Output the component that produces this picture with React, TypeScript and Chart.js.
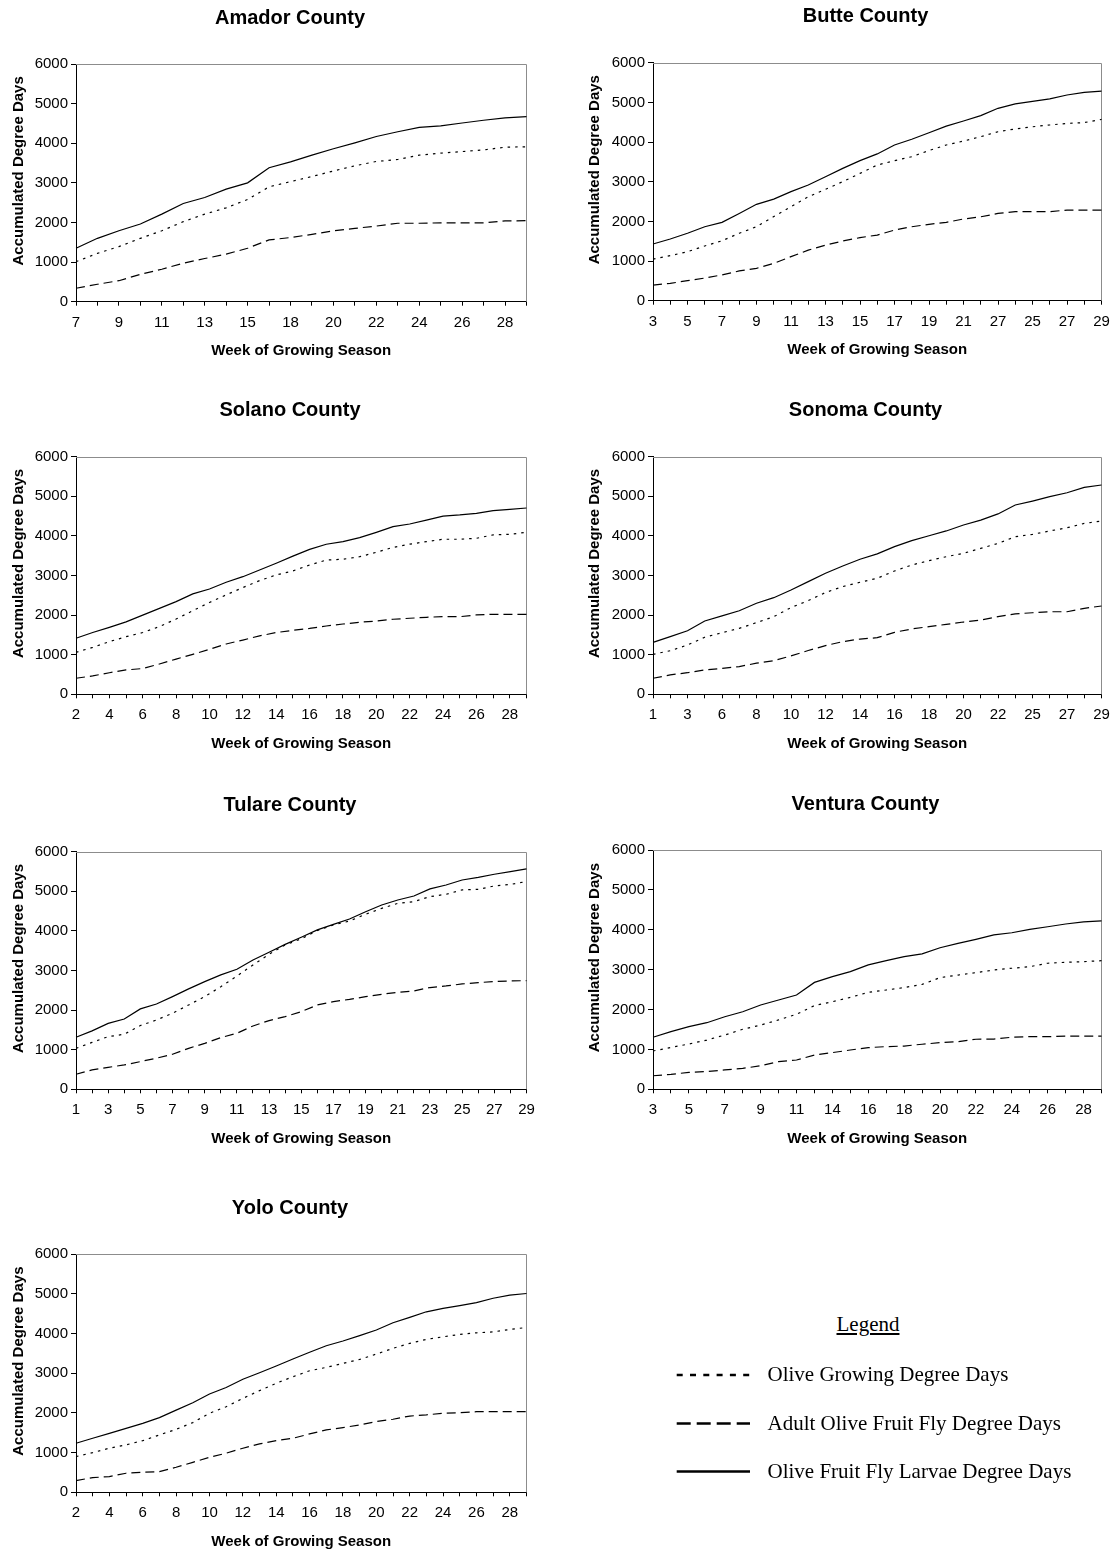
import React, { useEffect, useRef } from 'react';
import { Chart, registerables, LinearScale } from 'chart.js';

Chart.register(...registerables);

const Y_TITLE_SHIFT = -12;

class ShiftedTitleLinearScale extends LinearScale {
  static id = 'shiftedTitleLinear';
  static defaults = LinearScale.defaults;
  drawTitle() {
    const ctx = this.ctx;
    ctx.save();
    ctx.translate(0, Y_TITLE_SHIFT);
    super.drawTitle();
    ctx.restore();
  }
}
Chart.register(ShiftedTitleLinearScale);

// ---------------- DATA ----------------
const SERIES_NAMES = [
  'Olive Growing Degree Days',
  'Adult Olive Fruit Fly Degree Days',
  'Olive Fruit Fly Larvae Degree Days',
];
const Y_TICKS = [0, 1000, 2000, 3000, 4000, 5000, 6000];

const amadorWeeks = ['7','8','9','10','11','12','13','14','15','16','18','19','20','21','22','23','24','25','26','27','28','29'];
const amadorGrowing = [1010,1220,1390,1600,1790,2020,2210,2370,2580,2900,3030,3160,3300,3430,3540,3590,3700,3750,3790,3830,3900,3910];
const amadorAdult = [340,440,530,690,820,970,1090,1200,1350,1560,1620,1700,1790,1850,1910,1980,1980,1990,1990,1990,2040,2045];
const amadorLarvae = [1350,1600,1790,1960,2210,2480,2630,2840,3000,3380,3530,3700,3860,4010,4170,4290,4400,4440,4510,4580,4640,4670];

const butteWeeks = ['3','4','5','6','7','8','9','10','11','12','13','14','15','16','17','18','19','20','21','22','27','24','25','26','27','28','29'];
const butteGrowing = [1050,1135,1235,1380,1510,1700,1865,2120,2370,2620,2810,3000,3210,3420,3530,3630,3785,3925,4025,4135,4260,4330,4385,4430,4470,4490,4570];
const butteAdult = [395,437,505,570,650,750,815,940,1110,1275,1400,1505,1590,1655,1780,1865,1925,1975,2060,2115,2200,2245,2245,2245,2285,2285,2285];
const butteLarvae = [1430,1555,1700,1865,1975,2200,2430,2560,2750,2915,3125,3335,3530,3700,3925,4070,4235,4400,4530,4665,4850,4960,5025,5090,5185,5250,5285];

const solanoWeeks = ['2','3','4','5','6','7','8','9','10','11','12','13','14','15','16','17','18','19','20','21','22','23','24','25','26','27','28','29'];
const solanoGrowing = [1060,1185,1330,1455,1560,1710,1900,2110,2320,2510,2695,2870,3015,3115,3265,3390,3410,3475,3585,3710,3790,3855,3915,3915,3940,4025,4040,4090];
const solanoAdult = [405,465,545,615,650,765,890,1010,1135,1270,1370,1475,1560,1615,1665,1725,1775,1820,1850,1895,1920,1945,1960,1960,2005,2020,2020,2020];
const solanoLarvae = [1415,1560,1690,1830,2000,2170,2340,2535,2660,2830,2970,3140,3310,3490,3660,3790,3855,3955,4090,4235,4300,4400,4500,4530,4570,4640,4670,4705];

const sonomaWeeks = ['1','2','3','4','6','7','8','9','10','11','12','13','14','15','16','17','18','19','20','21','22','24','25','26','27','28','29'];
const sonomaGrowing = [1010,1100,1245,1440,1555,1665,1810,1960,2190,2365,2570,2720,2830,2930,3115,3265,3375,3475,3560,3685,3810,3980,4040,4125,4205,4315,4375];
const sonomaAdult = [405,490,545,615,655,700,785,850,970,1105,1230,1330,1395,1430,1565,1650,1710,1765,1825,1875,1960,2030,2060,2085,2085,2170,2230];
const sonomaLarvae = [1310,1455,1605,1850,1980,2110,2300,2440,2635,2845,3055,3240,3410,3545,3730,3880,4005,4125,4275,4400,4555,4780,4880,4990,5090,5225,5285];

const tulareWeeks = ['1','2','3','4','5','6','7','8','9','10','11','12','13','14','15','16','17','18','19','20','21','22','23','24','25','26','27','28','29'];
const tulareGrowing = [1035,1185,1330,1390,1610,1750,1920,2130,2340,2590,2860,3140,3410,3645,3800,4010,4150,4250,4420,4570,4695,4740,4865,4925,5035,5050,5135,5175,5245];
const tulareAdult = [380,490,555,615,700,785,885,1035,1160,1305,1415,1600,1735,1835,1960,2130,2215,2270,2340,2400,2450,2485,2570,2610,2660,2695,2720,2735,2745];
const tulareLarvae = [1315,1475,1665,1775,2030,2155,2340,2535,2720,2890,3030,3265,3460,3660,3840,4025,4165,4300,4485,4655,4780,4880,5060,5160,5285,5350,5430,5495,5565];

const venturaWeeks = ['3','4','5','6','7','8','9','10','11','13','14','15','16','17','18','19','20','21','22','23','24','25','26','27','28','29'];
const venturaGrowing = [960,1050,1135,1235,1360,1505,1610,1740,1880,2100,2195,2305,2430,2490,2550,2630,2800,2865,2925,2990,3035,3075,3160,3185,3200,3225];
const venturaAdult = [340,375,425,445,485,525,590,695,735,860,920,985,1045,1070,1085,1130,1170,1195,1255,1260,1305,1320,1320,1335,1335,1335];
const venturaLarvae = [1305,1445,1570,1670,1820,1945,2115,2240,2365,2680,2825,2950,3120,3225,3325,3395,3550,3660,3760,3870,3925,4010,4075,4145,4200,4225];

const yoloWeeks = ['2','3','4','5','6','7','8','9','10','11','12','13','14','15','16','17','18','19','20','21','22','23','24','25','26','27','28','29'];
const yoloGrowing = [900,1000,1110,1195,1300,1445,1585,1755,1990,2155,2365,2560,2745,2910,3060,3145,3245,3345,3480,3625,3750,3850,3915,3975,4015,4040,4100,4150];
const yoloAdult = [295,370,395,480,505,520,630,755,880,985,1110,1220,1300,1360,1470,1570,1630,1695,1780,1840,1920,1950,1990,2005,2030,2030,2030,2030];
const yoloLarvae = [1235,1360,1485,1610,1735,1880,2070,2255,2475,2640,2845,3010,3180,3355,3525,3690,3810,3945,4085,4270,4405,4545,4630,4700,4775,4885,4965,5005];

// ---------------- LAYOUT ----------------
const FONT = '"Liberation Sans", Arial, Helvetica, sans-serif';
const SERIF = '"Liberation Serif", "Times New Roman", serif';

const COL_LEFT = { yTitleX: 18.5, plotL: 76, plotR: 526.5, titleX: 290 };
const COL_RIGHT = { yTitleX: 595, plotL: 653, plotR: 1101.5, titleX: 865.5 };

type Col = typeof COL_LEFT;
interface Spec {
  title: string;
  weeks: string[];
  growing: number[];
  adult: number[];
  larvae: number[];
  col: Col;
  plotT: number;
  plotB: number;
}

const SPECS: Spec[] = [
  { title: 'Amador County', weeks: amadorWeeks, growing: amadorGrowing, adult: amadorAdult, larvae: amadorLarvae, col: COL_LEFT, plotT: 64, plotB: 301.7 },
  { title: 'Butte County', weeks: butteWeeks, growing: butteGrowing, adult: butteAdult, larvae: butteLarvae, col: COL_RIGHT, plotT: 62.7, plotB: 300.7 },
  { title: 'Solano County', weeks: solanoWeeks, growing: solanoGrowing, adult: solanoAdult, larvae: solanoLarvae, col: COL_LEFT, plotT: 456.7, plotB: 694.3 },
  { title: 'Sonoma County', weeks: sonomaWeeks, growing: sonomaGrowing, adult: sonomaAdult, larvae: sonomaLarvae, col: COL_RIGHT, plotT: 456.7, plotB: 694.3 },
  { title: 'Tulare County', weeks: tulareWeeks, growing: tulareGrowing, adult: tulareAdult, larvae: tulareLarvae, col: COL_LEFT, plotT: 851.7, plotB: 1089.3 },
  { title: 'Ventura County', weeks: venturaWeeks, growing: venturaGrowing, adult: venturaAdult, larvae: venturaLarvae, col: COL_RIGHT, plotT: 850, plotB: 1089.3 },
  { title: 'Yolo County', weeks: yoloWeeks, growing: yoloGrowing, adult: yoloAdult, larvae: yoloLarvae, col: COL_LEFT, plotT: 1254, plotB: 1492.3 },
];

function geometry(s: Spec) {
  const col = s.col;
  const cl = Math.floor(col.yTitleX - 18.5);
  const ct = Math.floor(s.plotT - 64);
  const W = Math.round(2 * (col.titleX - cl));
  const yW = col.plotL - cl;
  const D = cl + W - col.plotR;
  const yTitlePad = col.yTitleX - cl - 9;
  const titlePadTop = (s.plotT - 46) - ct - 12;
  const titlePadBottom = s.plotT - ct - titlePadTop - 24;
  const H = Math.ceil(s.plotB - ct + 58.5);
  const xH = H - (s.plotB - ct);
  const xTitlePadBottom = Math.max(0, xH - 49.5 - 9);
  return { cl, ct, W, H, yW, D, yTitlePad, titlePadTop, titlePadBottom, xH, xTitlePadBottom };
}

const framePlugin = {
  id: 'plotFrame',
  beforeDatasetsDraw(chart: any) {
    const { ctx, chartArea: a } = chart;
    const top = Math.round(a.top) + 0.5;
    const right = Math.round(a.right) - 0.5;
    ctx.save();
    ctx.strokeStyle = '#8c8c8c';
    ctx.lineWidth = 1;
    ctx.beginPath();
    ctx.moveTo(a.left, top);
    ctx.lineTo(right, top);
    ctx.lineTo(right, a.bottom);
    ctx.stroke();
    ctx.restore();
  },
};

function buildConfig(s: Spec, g: ReturnType<typeof geometry>): any {
  const weeks = s.weeks;
  return {
    type: 'line',
    data: {
      labels: weeks,
      datasets: [
        { label: SERIES_NAMES[2], data: s.larvae, borderColor: '#000', borderWidth: 1.2, pointRadius: 0, tension: 0, fill: false },
        { label: SERIES_NAMES[0], data: s.growing, borderColor: '#000', borderWidth: 1.2, borderDash: [2.5, 5], pointRadius: 0, tension: 0, fill: false },
        { label: SERIES_NAMES[1], data: s.adult, borderColor: '#000', borderWidth: 1.2, borderDash: [9, 5], pointRadius: 0, tension: 0, fill: false },
      ],
    },
    plugins: [framePlugin],
    options: {
      responsive: false,
      animation: false,
      devicePixelRatio: 1,
      events: [],
      layout: { padding: 0 },
      plugins: {
        legend: { display: false },
        tooltip: { enabled: false },
        title: {
          display: true,
          text: s.title,
          color: '#000',
          font: { family: FONT, size: 20, weight: 'bold', lineHeight: 1.2 },
          padding: { top: g.titlePadTop, bottom: g.titlePadBottom },
        },
      },
      scales: {
        x: {
          type: 'category',
          offset: false,
          grid: { display: true, drawOnChartArea: false, drawTicks: true, tickLength: 4, color: '#000', lineWidth: 1 },
          border: { display: true, color: '#000', width: 1 },
          ticks: {
            autoSkip: false,
            maxRotation: 0,
            minRotation: 0,
            padding: 8,
            color: '#000',
            font: { family: FONT, size: 15, lineHeight: 1.2 },
            callback: (_v: any, i: number) => (i % 2 === 0 ? weeks[i] : ''),
          },
          title: {
            display: true,
            text: 'Week of Growing Season',
            color: '#000',
            font: { family: FONT, size: 15, weight: 'bold', lineHeight: 1.2 },
            padding: { top: 0, bottom: g.xTitlePadBottom },
          },
          afterFit: (sc: any) => { sc.height = g.xH; sc.paddingLeft = 0; sc.paddingRight = 0; },
        },
        y: {
          type: 'shiftedTitleLinear',
          position: 'left',
          min: Y_TICKS[0],
          max: Y_TICKS[Y_TICKS.length - 1],
          afterBuildTicks: (sc: any) => { sc.ticks = Y_TICKS.map((v) => ({ value: v })); },
          grid: { display: true, drawOnChartArea: false, drawTicks: true, tickLength: 5, color: '#000', lineWidth: 1 },
          border: { display: true, color: '#000', width: 1 },
          ticks: {
            padding: 3,
            color: '#000',
            font: { family: FONT, size: 15, lineHeight: 1.2 },
            callback: (v: any) => String(v),
          },
          title: {
            display: true,
            text: 'Accumulated Degree Days',
            color: '#000',
            font: { family: FONT, size: 15, weight: 'bold', lineHeight: 1.2 },
            padding: { top: g.yTitlePad, bottom: 0 },
          },
          afterFit: (sc: any) => { sc.width = g.yW; sc.paddingTop = 0; sc.paddingBottom = 0; },
        },
        yR: {
          type: 'linear',
          position: 'right',
          display: true,
          grid: { display: false, drawTicks: false },
          border: { display: false },
          ticks: { display: false },
          afterFit: (sc: any) => { sc.width = g.D; sc.paddingTop = 0; sc.paddingBottom = 0; },
        },
      },
    },
  };
}

function CountyChart({ spec }: { spec: Spec }) {
  const ref = useRef<HTMLCanvasElement>(null);
  const g = geometry(spec);
  useEffect(() => {
    if (!ref.current) return;
    const chart = new Chart(ref.current, buildConfig(spec, g));
    return () => chart.destroy();
  }, []);
  return (
    <canvas
      ref={ref}
      width={g.W}
      height={g.H}
      style={{ position: 'absolute', left: g.cl, top: g.ct, width: g.W, height: g.H }}
    />
  );
}

const LEGEND_TITLE = 'Legend';
const LEGEND_ROWS = [
  { text: SERIES_NAMES[0], y: 1375, dash: '6 7.3' },
  { text: SERIES_NAMES[1], y: 1423.5, dash: '14 6' },
  { text: SERIES_NAMES[2], y: 1471.5, dash: '' },
];

export default function App() {
  return (
    <div style={{ position: 'absolute', left: 0, top: 0, width: 1117, height: 1554, overflow: 'hidden', background: '#fff' }}>
      {SPECS.map((s) => (
        <CountyChart key={s.title} spec={s} />
      ))}
      <div
        style={{
          position: 'absolute', left: 768, top: 1314, width: 200, textAlign: 'center',
          fontFamily: SERIF, fontSize: 21, lineHeight: '21px', textDecoration: 'underline', color: '#000',
        }}
      >
        {LEGEND_TITLE}
      </div>
      <svg style={{ position: 'absolute', left: 0, top: 0 }} width={1117} height={1554}>
        {LEGEND_ROWS.map((r) => (
          <line key={r.text} x1={676.7} y1={r.y} x2={750} y2={r.y} stroke="#000" strokeWidth={2.5}
            strokeDasharray={r.dash || undefined} />
        ))}
      </svg>
      {LEGEND_ROWS.map((r) => (
        <div key={r.text}
          style={{
            position: 'absolute', left: 767.5, top: r.y + 6.7 - 17.6, whiteSpace: 'nowrap',
            fontFamily: SERIF, fontSize: 21, lineHeight: '21px', color: '#000',
          }}
        >
          {r.text}
        </div>
      ))}
    </div>
  );
}
